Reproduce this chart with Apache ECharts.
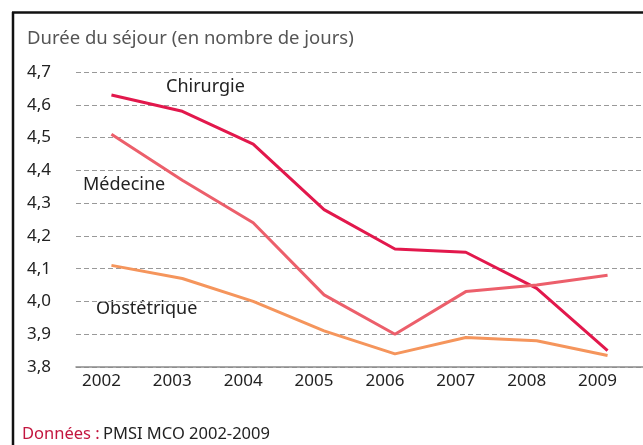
<!DOCTYPE html>
<html><head><meta charset="utf-8">
<script src="https://cdn.jsdelivr.net/npm/echarts@6/dist/echarts.min.js"></script>
<style>html,body{margin:0;padding:0;background:#fff}#c{width:643px;height:445px}</style>
</head><body><div id="c"></div>
<script>
const years = ['2002','2003','2004','2005','2006','2007','2008','2009'];
const chirurgie = [4.63, 4.58, 4.48, 4.28, 4.16, 4.15, 4.04, 3.85];
const medecine = [4.51, 4.37, 4.24, 4.02, 3.90, 4.03, 4.05, 4.08];
const obstetrique = [4.11, 4.07, 4.00, 3.91, 3.84, 3.89, 3.88, 3.835];
const seriesNames = ['Chirurgie', 'Médecine', 'Obstétrique'];

const FONT = '"Noto Sans", sans-serif';
const chart = echarts.init(document.getElementById('c'));
const mk = (name, data, color) => ({
  name, type: 'line', data, symbol: 'none', smooth: false,
  lineStyle: { color, width: 3 }, itemStyle: { color }
});
chart.setOption({
  animation: false,
  grid: { left: 76, right: 0, top: 72, bottom: 78 },
  xAxis: {
    type: 'category', data: years, boundaryGap: true,
    axisLine: { show: true, lineStyle: { color: '#8a8a8a', width: 1.5 } },
    axisTick: { show: false },
    axisLabel: { color: '#222', fontSize: 17, fontFamily: FONT, margin: 6, padding: [0, 20, 0, 0] },
    splitLine: { show: false }
  },
  yAxis: {
    type: 'value', min: 3.8, max: 4.7, interval: 0.1,
    axisLine: { show: false }, axisTick: { show: false },
    axisLabel: { color: '#222', fontSize: 17, fontFamily: FONT, margin: 25,
      formatter: v => v.toFixed(1).replace('.', ',') },
    splitLine: { show: true, lineStyle: { color: '#999', type: [5, 3], width: 1 } }
  },
  series: [
    mk(seriesNames[0], chirurgie, '#e2184c'),
    mk(seriesNames[1], medecine, '#ec5f6b'),
    mk(seriesNames[2], obstetrique, '#f5955c')
  ],
  graphic: [
    { type: 'line', shape: { x1: 13, y1: 12, x2: 13, y2: 445 }, style: { stroke: '#111', lineWidth: 2.5 } },
    { type: 'line', shape: { x1: 12, y1: 12.5, x2: 643, y2: 12.5 }, style: { stroke: '#111', lineWidth: 2.5 } },
    { type: 'text', left: 27, top: 29, style: { text: 'Durée du séjour (en nombre de jours)', fill: '#555', font: '18.5px ' + FONT } },
    { type: 'text', left: 166, top: 78, style: { text: seriesNames[0], fill: '#222', font: '18px ' + FONT } },
    { type: 'text', left: 83, top: 176, style: { text: seriesNames[1], fill: '#222', font: '18px ' + FONT } },
    { type: 'text', left: 96, top: 300, style: { text: seriesNames[2], fill: '#222', font: '18px ' + FONT } },
    { type: 'text', left: 22, top: 426, style: {
        text: '{a|Données :} {b|PMSI MCO 2002-2009}',
        rich: { a: { fill: '#c3163f', font: '16.5px ' + FONT }, b: { fill: '#222', font: '16.5px ' + FONT } }
      } }
  ]
});
</script></body></html>
